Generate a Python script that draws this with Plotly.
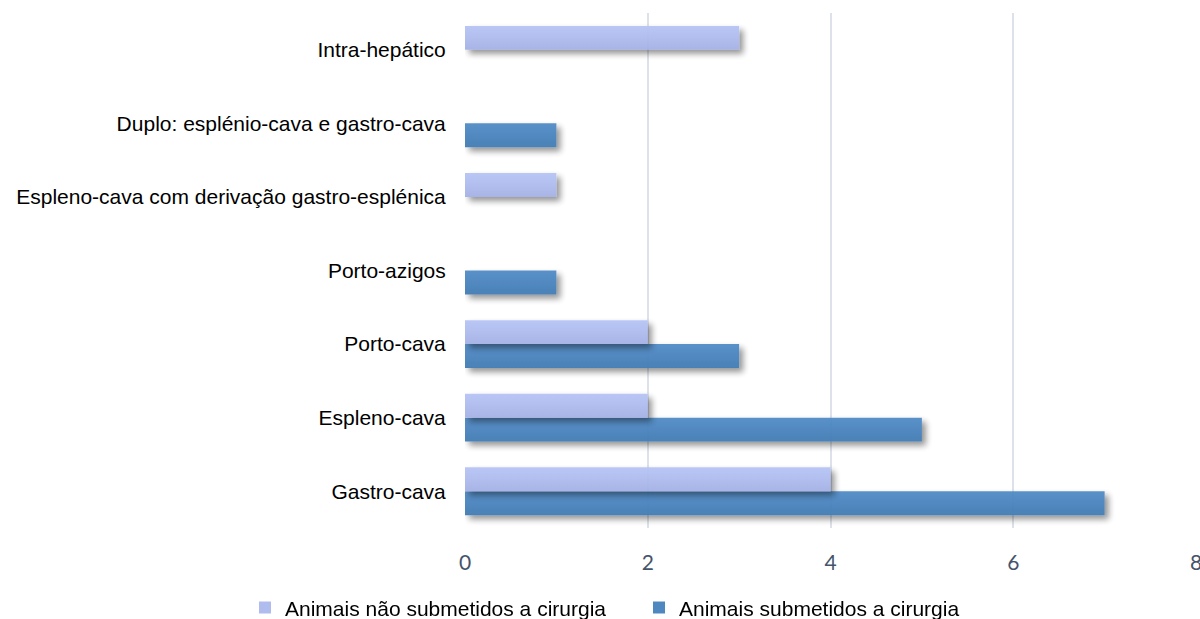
import plotly.graph_objects as go

# Shunt categories (bottom to top)
categories = [
    "Gastro-cava",
    "Espleno-cava",
    "Porto-cava",
    "Porto-azigos",
    "Espleno-cava com derivação gastro-esplénica",
    "Duplo: esplénio-cava e gastro-cava",
    "Intra-hepático",
]
submetidos = [7, 5, 3, 1, 0, 1, 0]
nao_submetidos = [4, 2, 2, 0, 1, 0, 3]

series_names = ["Animais submetidos a cirurgia", "Animais não submetidos a cirurgia"]
series_colors = ["#4581bc", "#aab8ec"]

x_ticks = [0, 2, 4, 6, 8]

fig = go.Figure()
fig.add_trace(go.Bar(
    y=categories, x=submetidos, orientation="h",
    name=series_names[0], marker=dict(color=series_colors[0], line=dict(width=0)),
    opacity=0.94, legend="legend2",
))
fig.add_trace(go.Bar(
    y=categories, x=nao_submetidos, orientation="h",
    name=series_names[1], marker=dict(color=series_colors[1], line=dict(width=0)),
    opacity=0.94, legend="legend",
))

legend_font = dict(family="Liberation Sans, Arial", size=21, color="#000000")
legend_common = dict(
    orientation="h", xref="container", yref="container",
    xanchor="left", y=0.018, yanchor="middle",
    font=legend_font, itemwidth=30, bgcolor="rgba(0,0,0,0)",
)

fig.update_layout(
    width=1200, height=619,
    margin=dict(l=465, r=4, t=13, b=91, autoexpand=False),
    paper_bgcolor="white", plot_bgcolor="white",
    barmode="group", bargap=0.35, bargroupgap=0,
    showlegend=True,
    legend=dict(x=245 / 1200, **legend_common),
    legend2=dict(x=639 / 1200, **legend_common),
    xaxis=dict(
        range=[0, 8], tickvals=x_ticks, ticktext=[str(v) for v in x_ticks],
        showgrid=True, gridcolor="#dde2ea", gridwidth=1.5,
        zeroline=False, showline=False,
        ticks="outside", ticklen=16, tickcolor="rgba(0,0,0,0)",
        ticklabeloverflow="allow",
        tickfont=dict(family="Lato, Open Sans", size=21, color="#44546a"),
    ),
    yaxis=dict(
        categoryorder="array", categoryarray=categories,
        showgrid=False, zeroline=False, showline=False,
        ticks="outside", ticklen=14, tickcolor="rgba(0,0,0,0)",
        tickfont=dict(family="Liberation Sans, Arial", size=21, color="#000000"),
    ),
)

# Soft vertical gradient and drop shadow on the bars
post = """
(function(){
  var gd = document.getElementById('{plot_id}');
  var svg = gd.querySelector('svg.main-svg');
  var ns = 'http://www.w3.org/2000/svg';
  var defs = svg.querySelector('defs') || svg.insertBefore(document.createElementNS(ns,'defs'), svg.firstChild);
  function grad(id, c1, c2){
    var g = document.createElementNS(ns,'linearGradient');
    g.setAttribute('id', id); g.setAttribute('x1','0'); g.setAttribute('y1','0');
    g.setAttribute('x2','0'); g.setAttribute('y2','1');
    [[0,c1],[1,c2]].forEach(function(s){
      var st = document.createElementNS(ns,'stop');
      st.setAttribute('offset', s[0]); st.setAttribute('stop-color', s[1]);
      g.appendChild(st);
    });
    defs.appendChild(g);
  }
  grad('barGradDark', '#4f8ac6', '#3e79b2');
  grad('barGradLight', '#b6c4f6', '#a2b0e4');
  var f = document.createElementNS(ns,'filter');
  f.setAttribute('id','barShadow');
  f.setAttribute('x','-10%'); f.setAttribute('y','-40%');
  f.setAttribute('width','130%'); f.setAttribute('height','200%');
  var ds = document.createElementNS(ns,'feDropShadow');
  ds.setAttribute('dx','4'); ds.setAttribute('dy','4');
  ds.setAttribute('stdDeviation','3');
  ds.setAttribute('flood-color','#000'); ds.setAttribute('flood-opacity','0.45');
  f.appendChild(ds); defs.appendChild(f);
  var traces = gd.querySelectorAll('g.trace.bars');
  traces.forEach(function(t, i){
    var id = i === 0 ? 'barGradDark' : 'barGradLight';
    t.querySelectorAll('g.point path').forEach(function(p){
      p.style.fill = 'url(#' + id + ')';
      p.setAttribute('filter','url(#barShadow)');
    });
  });
})();
"""

fig.write_html("out.html", post_script=post)
